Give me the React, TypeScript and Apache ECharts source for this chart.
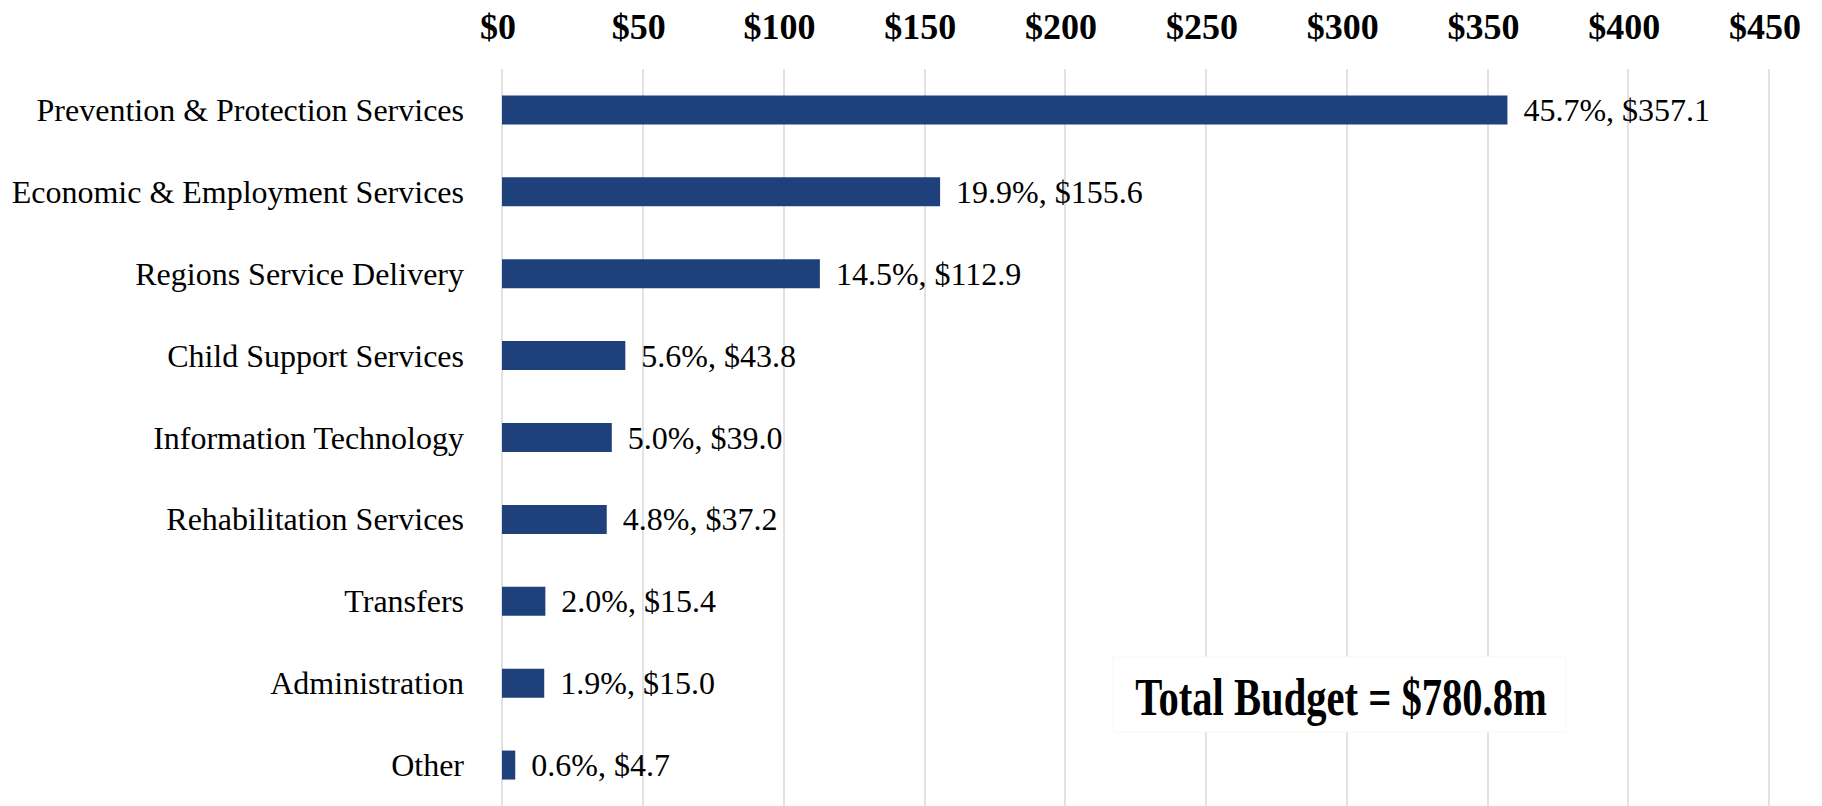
import React, { useEffect, useRef } from "react";
import * as echarts from "echarts";

const categories = [
  "Prevention & Protection Services",
  "Economic & Employment Services",
  "Regions Service Delivery",
  "Child Support Services",
  "Information Technology",
  "Rehabilitation Services",
  "Transfers",
  "Administration",
  "Other",
];
const values = [357.1, 155.6, 112.9, 43.8, 39.0, 37.2, 15.4, 15.0, 4.7];
const percents = [45.7, 19.9, 14.5, 5.6, 5.0, 4.8, 2.0, 1.9, 0.6];
const tickMax = 450;
const tickStep = 50;
const totalLabel = "Total Budget = $780.8m";

const FONT = '"Liberation Serif", "Times New Roman", serif';

export default function App() {
  const ref = useRef<HTMLDivElement>(null);
  useEffect(() => {
    document.body.style.margin = "0";
    const chart = echarts.init(ref.current!, null, { renderer: "svg" });
    chart.setOption({
      animation: false,
      backgroundColor: "#ffffff",
      grid: { left: 502, right: 53, top: 69, height: 738, containLabel: false },
      xAxis: {
        type: "value",
        position: "top",
        min: 0,
        max: tickMax,
        interval: tickStep,
        axisLine: { show: false },
        axisTick: { show: false },
        splitLine: { show: true, lineStyle: { color: "#d9d9d9", width: 1.5 } },
        axisLabel: {
          formatter: (v: number) => "$" + v,
          fontFamily: FONT,
          fontWeight: "bold",
          fontSize: 36,
          color: "#000",
          margin: 24,
          padding: [0, 8, 0, 0],
        },
      },
      yAxis: {
        type: "category",
        data: categories,
        inverse: true,
        axisLine: { show: false },
        axisTick: { show: false },
        splitLine: { show: false },
        axisLabel: {
          fontFamily: FONT,
          fontSize: 32,
          color: "#000",
          margin: 38,
        },
      },
      series: [
        {
          type: "bar",
          data: values,
          barWidth: 29,
          itemStyle: { color: "#1f417b" },
          label: {
            show: true,
            position: "right",
            distance: 16,
            fontFamily: FONT,
            fontSize: 32,
            color: "#000",
            formatter: (p: any) =>
              percents[p.dataIndex].toFixed(1) + "%, $" + values[p.dataIndex].toFixed(1),
          },
        },
      ],
      graphic: [
        {
          type: "rect",
          shape: { x: 1113, y: 657, width: 453, height: 75 },
          style: { fill: "#ffffff", stroke: "#f7f7f7", lineWidth: 1 },
          z: 100,
        },
        {
          type: "text",
          x: 1341,
          y: 697,
          scaleX: 0.766,
          z: 101,
          style: {
            text: totalLabel,
            fontFamily: FONT,
            fontWeight: "bold",
            fontSize: 53,
            fill: "#000",
            textAlign: "center",
            textVerticalAlign: "middle",
          },
        },
      ],
    });
    return () => chart.dispose();
  }, []);
  return <div ref={ref} style={{ width: 1822, height: 806 }} />;
}
